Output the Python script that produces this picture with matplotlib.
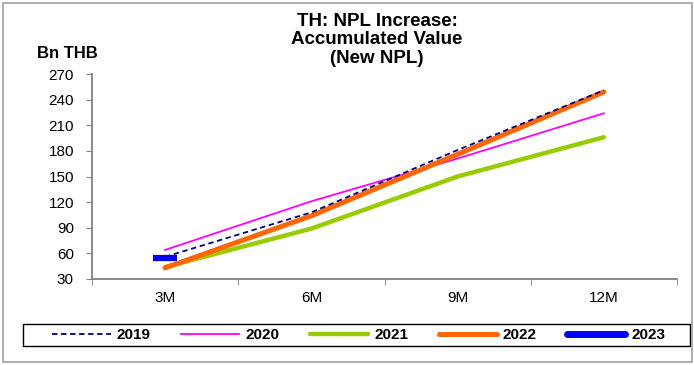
import matplotlib
matplotlib.use("Agg")
from matplotlib import pyplot as plt
from matplotlib.patches import Rectangle
from matplotlib.lines import Line2D

plt.rcParams['font.family'] = ['Liberation Sans', 'DejaVu Sans']

# data
periods = ['3M', '6M', '9M', '12M']
npl_2019 = [56, 108, 181, 251]
npl_2020 = [64, 121, 171, 224]
npl_2021 = [44, 89, 150, 196]
npl_2022 = [43, 104, 176, 249]
npl_2023 = [55]
y_ticks = [30, 60, 90, 120, 150, 180, 210, 240, 270]
years = ['2019', '2020', '2021', '2022', '2023']

W, H = 694, 365
fig = plt.figure(figsize=(W / 100, H / 100), dpi=100)
ax = fig.add_axes([92 / W, 1 - 279 / H, (677 - 92) / W, (279 - 74) / H])

xs = list(range(len(periods)))
ax.plot(xs, npl_2019, color='#000080', lw=1.3, ls=(0, (3, 2)), zorder=5)
ax.plot(xs, npl_2020, color='#FF00FF', lw=1.3, zorder=2)
ax.plot(xs, npl_2021, color='#99CC00', lw=3.2, zorder=3, solid_capstyle='round')
ax.plot(xs, npl_2022, color='#FF6600', lw=3.6, zorder=4, solid_capstyle='round')
ax.plot(xs[:len(npl_2023)], npl_2023, color='#0000FF', lw=0, marker='_',
        markersize=17, markeredgewidth=4.5, zorder=6)

ax.set_xlim(-0.5, len(periods) - 0.5)
ax.set_ylim(30, 270)
ax.set_yticks(y_ticks)
ax.set_xticks(xs)
ax.set_xticklabels(periods)
ax.set_xticks([i - 0.5 for i in range(len(periods) + 1)], minor=True)
ax.tick_params(axis='x', which='major', length=0, pad=9, labelsize=11)
ax.tick_params(axis='x', which='minor', length=4, color='#808080')
ax.tick_params(axis='y', length=4, color='#808080', labelsize=11, pad=9)
for side in ['top', 'right']:
    ax.spines[side].set_visible(False)
for side in ['left', 'bottom']:
    ax.spines[side].set_color('#808080')
    ax.spines[side].set_linewidth(1.3)

fig.text(377 / W, 1 - 13 / H, 'TH: NPL Increase:\nAccumulated Value\n(New NPL)',
         ha='center', va='top', fontsize=13.5, fontweight='bold', linespacing=1.1)
fig.text(37 / W, 1 - 54 / H, 'Bn THB', ha='left', va='center',
         fontsize=12, fontweight='bold')

handles = [Line2D([], [], color='#000080', lw=1.3, ls=(0, (3, 2))),
           Line2D([], [], color='#FF00FF', lw=1.3),
           Line2D([], [], color='#99CC00', lw=3.2, solid_capstyle='round'),
           Line2D([], [], color='#FF6600', lw=3.6, solid_capstyle='round'),
           Line2D([], [], color='#0000FF', lw=5, solid_capstyle='round')]
fig.legend(handles, years, ncol=5, loc='center',
           bbox_to_anchor=(359 / W, 1 - 335 / H),
           prop={'weight': 'bold', 'size': 11}, frameon=False,
           handlelength=3.8, columnspacing=2.0, borderpad=0.2, handletextpad=0.4)

# legend frame and outer chart border
fig.patches.append(Rectangle((23 / W, 1 - 346 / H), 667 / W, 22 / H,
                             transform=fig.transFigure, fill=False,
                             edgecolor='black', lw=1.0))
fig.patches.append(Rectangle((3 / W, 1 - 362 / H), 689 / W, 359 / H,
                             transform=fig.transFigure, fill=False,
                             edgecolor='#A0A0A0', lw=1.2))

fig.savefig('out.png', dpi=100)
